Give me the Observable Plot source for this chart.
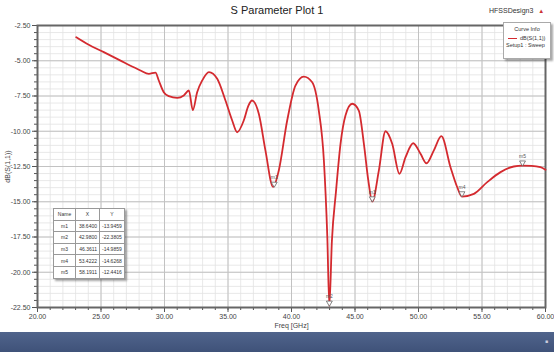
<!DOCTYPE html>
<html><head><meta charset="utf-8">
<script src="https://cdn.jsdelivr.net/npm/d3@7"></script>
<script src="https://cdn.jsdelivr.net/npm/@observablehq/plot@0.6"></script>
<style>
html,body{margin:0;padding:0;background:#fff;}
#wrap{position:relative;width:554px;height:352px;overflow:hidden;font-family:"Liberation Sans Narrow","Liberation Sans",Arial,sans-serif;}
#chart{position:absolute;left:0;top:0;}
.title{position:absolute;top:4px;left:0;width:554px;text-align:center;font-size:11px;color:#222;font-family:"Liberation Sans Narrow","Liberation Sans",Arial,sans-serif;}
.design{position:absolute;top:7px;left:489px;font-size:7px;color:#333;}
.design span{color:#c33;margin-left:5px;font-size:6px;}
.legend{position:absolute;left:503px;top:22px;width:46px;height:35px;background:#fff;border:1px solid #aaa;box-shadow:2px 2px 2px rgba(0,0,0,0.35);font-size:5.5px;color:#333;}
.legend .h{text-align:center;margin-top:3px;}
.legend .r{margin-top:3px;padding-left:4px;white-space:nowrap;}
.legend .r i{display:inline-block;width:9px;height:0;border-top:1.5px solid #d42a2f;vertical-align:middle;margin-right:3px;}
.legend .s{padding-left:2px;white-space:nowrap;margin-top:1px;}
table.mk{position:absolute;left:53px;top:208px;border-collapse:collapse;background:#fff;box-shadow:2px 2px 2px rgba(0,0,0,0.35);font-size:5px;color:#333;}
table.mk td{border:1px solid #999;height:10.6px;padding:0 2px;text-align:center;}
table.mk td.n{width:17px;}
table.mk td.v{width:19px;text-align:right;}
.band{position:absolute;left:0;top:332px;width:554px;height:20px;background:linear-gradient(#50648c,#3f5279);}
.band span{position:absolute;right:6px;top:6px;font-size:5px;color:#ccd;}
</style></head>
<body><div id="wrap"></div>
<script>
// S11 curve (frequency in GHz, dB)
const freq = [23.05,24.0,25.22,26.5,27.58,28.11,28.77,29.29,29.55,29.94,30.34,31.0,31.52,31.92,32.23,32.57,32.97,33.5,34.15,34.8,35.33,35.72,36.24,36.6,36.9,37.43,37.95,38.55,39.0,39.66,40.31,40.97,41.63,42.15,42.55,42.82,42.98,43.18,43.5,43.86,44.25,44.78,45.3,45.7,46.05,46.36,46.88,47.4,47.93,48.5,48.98,49.58,50.16,50.63,51.2,51.8,52.52,53.05,53.42,54.36,55.41,56.46,57.5,58.19,58.9,59.6,60.0];
const s11 = [-3.33,-3.85,-4.39,-4.97,-5.46,-5.69,-5.93,-5.84,-6.4,-7.23,-7.51,-7.63,-7.46,-7.11,-8.5,-7.23,-6.4,-5.81,-6.28,-7.82,-9.24,-10.07,-9.24,-8.2,-7.82,-8.77,-11.37,-13.95,-12.78,-9.24,-6.76,-6.12,-6.52,-8.53,-12.07,-17.5,-22.38,-17.8,-14.3,-10.89,-8.88,-8.05,-8.53,-10.89,-13.5,-14.99,-12.78,-10.0,-10.89,-13.02,-11.84,-10.85,-11.6,-12.27,-11.37,-10.35,-12.55,-13.97,-14.63,-14.44,-13.61,-12.9,-12.5,-12.44,-12.45,-12.55,-12.73];
// markers
const markerNames = ["m1","m2","m3","m4","m5"];
const markerX = [38.64,42.98,46.3611,53.4222,58.1911];
const markerY = [-13.9459,-22.3805,-14.9859,-14.6268,-12.4416];
const markerXText = ["38.6400","42.9800","46.3611","53.4222","58.1911"];
const markerYText = ["-13.9459","-22.3805","-14.9859","-14.6268","-12.4416"];
// axis ticks
const xTicks = [20,25,30,35,40,45,50,55,60];
const yTicks = [-22.5,-20,-17.5,-15,-12.5,-10,-7.5,-5,-2.5];
const xMinor = d3.range(20,60.001,1);
const yMinor = d3.range(-22.5,-2.499,0.5);

const curve = freq.map((f,i)=>({f, db:s11[i]}));
const markers = markerNames.map((n,i)=>({n, x:markerX[i], y:markerY[i]}));

const chart = Plot.plot({
  width:554, height:332,
  marginLeft:37, marginRight:9, marginTop:25, marginBottom:25,
  style:{fontFamily:'"Liberation Sans Narrow","Liberation Sans",Arial,sans-serif', fontSize:"7px", color:"#444", background:"#fff"},
  x:{type:"linear", domain:[20,60]},
  y:{type:"linear", domain:[-22.5,-2.5]},
  marks:[
    Plot.gridX(xMinor,{stroke:"#e2e2e2", strokeWidth:0.8, strokeOpacity:1}),
    Plot.gridY(yMinor,{stroke:"#e2e2e2", strokeWidth:0.8, strokeOpacity:1}),
    Plot.gridX(xTicks,{stroke:"#c2c2c2", strokeWidth:1, strokeOpacity:1}),
    Plot.gridY(yTicks,{stroke:"#c2c2c2", strokeWidth:1, strokeOpacity:1}),
    Plot.axisX(xMinor,{tickSize:3, tickFormat:()=>"", label:null, stroke:"#555"}),
    Plot.axisY(yMinor,{tickSize:3, tickFormat:()=>"", label:null, stroke:"#555"}),
    Plot.axisX(xTicks,{tickFormat:d=>d.toFixed(2), tickSize:5, tickPadding:2, label:"Freq [GHz]", labelAnchor:"center", labelArrow:"none", labelOffset:20, stroke:"#555", fill:"#444"}),
    Plot.axisY(yTicks,{tickFormat:d=>d.toFixed(2), tickSize:5, tickPadding:2, label:"dB(S(1,1))", labelAnchor:"center", labelArrow:"none", labelOffset:32, stroke:"#555", fill:"#444"}),
    Plot.frame({stroke:"#666", strokeWidth:2}),
    Plot.line(curve,{x:"f", y:"db", stroke:"#d42a2f", strokeWidth:1.8, curve:"monotone-x"}),
    Plot.dot(markers,{x:"x", y:"y", symbol:"triangle", rotate:180, r:2.2, dy:-3, stroke:"#666", fill:"#fff", strokeWidth:0.8}),
    Plot.text(markers,{x:"x", y:"y", text:"n", dy:-9, fontSize:5, fill:"#555"})
  ]
});
chart.id="chart";
const wrap=document.getElementById("wrap");
wrap.appendChild(chart);

wrap.insertAdjacentHTML("beforeend",`
<div class="title">S Parameter Plot 1</div>
<div class="design">HFSSDesign3<span>▲</span></div>
<div class="legend"><div class="h">Curve Info</div><div class="r"><i></i>dB(S(1,1))</div><div class="s">Setup1 : Sweep</div></div>
<div class="band"><span>■</span></div>
`);
const rows = markerNames.map((n,i)=>`<tr><td class="n">${n}</td><td class="v">${markerXText[i]}</td><td class="v">${markerYText[i]}</td></tr>`).join("");
wrap.insertAdjacentHTML("beforeend",`<table class="mk"><tr><td class="n">Name</td><td>X</td><td>Y</td></tr>${rows}</table>`);
</script>
</body></html>
